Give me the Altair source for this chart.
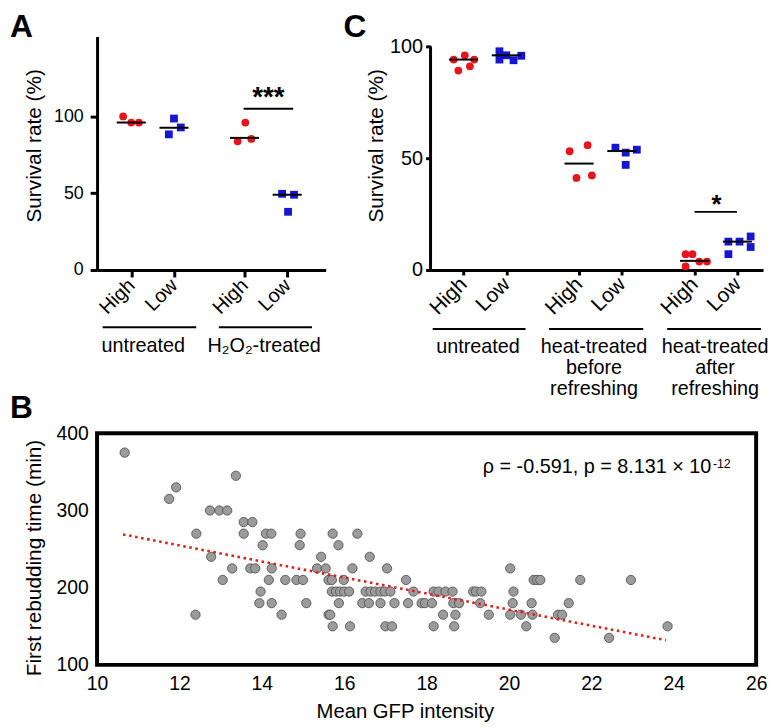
import altair as alt
import pandas as pd

FONT = "Liberation Sans"
RED = "#e8141c"
BLUE = "#1515d2"
GREY_FILL = "#9b9b9b"
GREY_EDGE = "#555555"
FIT_RED = "#d8231f"

# ---------------- Panel A data ----------------
A_TICK_POS = [1.0, 2.0, 3.65, 4.65]
A_TICK_LABELS = ["High", "Low", "High", "Low"]
A_GROUP = [0, 0, 0, 1, 1, 1, 2, 2, 2, 3, 3, 3]
A_JITTER = [-0.19, 0.0, 0.18, -0.12, 0.0, 0.16, -0.16, 0.02, 0.16, -0.12, 0.16, 0.02]
A_SURVIVAL = [100, 96, 96, 88.3, 98.6, 92.8, 83.8, 96, 85.3, 49.6, 49, 37.9]
A_MEDIAN = [96, 92.6, 86, 49]
A_CONDITIONS = ["untreated", "H\u2082O\u2082-treated"]
A_COND_START = [0.33, 3.05]
A_COND_END = [2.52, 5.23]
A_COND_TEXT_X = [1.28, 4.11]
A_SIG = {"x": 3.63, "x2": 4.79, "y": 105, "tx": 4.21, "ty": 106.5, "t": "***"}
A_X_DOMAIN = [0.2, 5.55]
A_Y_DOMAIN = [0, 152]

# ---------------- Panel C data ----------------
C_TICK_POS = [1.0, 2.0, 3.7, 4.7, 6.4, 7.4]
C_TICK_LABELS = ["High", "Low", "High", "Low", "High", "Low"]
C_GROUP = [0] * 5 + [1] * 5 + [2] * 4 + [3] * 4 + [4] * 5 + [5] * 5
C_JITTER = [-0.23, 0.03, 0.25, -0.12, 0.15,
            -0.16, -0.16, 0.0, 0.17, 0.35,
            -0.22, 0.2, -0.06, 0.3,
            -0.15, 0.09, 0.35, 0.09,
            -0.21, -0.05, 0.11, 0.29, -0.21,
            -0.21, 0.05, 0.31, 0.31, -0.21]
C_SURVIVAL = [94.1, 96.0, 94.1, 89.2, 91.1,
              97.8, 94.1, 96.0, 93.8, 95.8,
              53.1, 55.8, 41.2, 42.3,
              54.7, 52.5, 53.8, 47.0,
              7.1, 7.1, 3.8, 3.8, 1.6,
              12.7, 12.7, 15.0, 10.3, 7.1]
C_MEDIAN = [94.1, 96.0, 47.6, 53.2, 4.1, 12.7]
C_CONDITIONS = ["untreated", "heat-treated\nbefore\nrefreshing", "heat-treated\nafter\nrefreshing"]
C_COND_START = [0.28, 3.0, 5.76]
C_COND_END = [2.45, 5.2, 7.95]
C_COND_TEXT_X = [1.34, 4.05, 6.88]
C_SIG = {"x": 6.4, "x2": 7.39, "y": 26, "tx": 6.91, "ty": 25.3, "t": "*"}
C_X_DOMAIN = [0.23, 8.0]
C_Y_DOMAIN = [0, 104.42]
C_AXIS_TOP = 100

# ---------------- Panel B data ----------------
B_TIME_ROWS = [375, 345, 330, 315, 300, 285, 270, 255, 240, 225, 210, 195, 180, 165, 150, 135]
B_GFP_ROWS = [
    [10.67],
    [13.37],
    [11.92],
    [11.75],
    [12.74, 12.97, 13.16],
    [13.56, 13.77],
    [12.41, 13.56, 14.1, 14.23, 14.94, 15.72, 16.32],
    [14.02, 14.92, 15.86],
    [12.77, 15.44, 16.62],
    [13.28, 13.72, 13.84, 14.24, 15.34, 15.55, 16.2, 17.04, 20.03],
    [13.05, 14.17, 14.57, 14.84, 15.0, 15.62, 15.7, 15.99, 17.5, 20.6, 20.68, 20.76, 21.73, 22.96],
    [13.97, 15.7, 15.8, 15.9, 16.0, 16.12, 16.52, 16.64, 16.75, 16.88, 16.98, 17.12, 17.68,
     18.17, 18.29, 18.46, 18.63, 19.13, 19.2, 19.33, 20.11],
    [13.94, 14.24, 15.08, 15.87, 16.44, 16.6, 16.88, 17.22, 17.55, 17.88, 17.96, 18.13, 18.65,
     18.79, 19.3, 20.09, 20.55, 21.45],
    [12.39, 14.48, 15.62, 15.66, 18.4, 18.7, 19.51, 20.03, 20.29, 20.57, 21.19, 21.29],
    [15.72, 16.14, 17.0, 17.16, 18.17, 18.67, 20.42, 23.85],
    [21.11, 22.43],
]
FIT_GFP = [10.63, 23.81]
FIT_TIME = [269, 132]
B_X_TICKS = [10, 12, 14, 16, 18, 20, 22, 24, 26]
B_Y_TICKS = [100, 200, 300, 400]
B_X_DOMAIN = [10, 26]
B_Y_DOMAIN = [100, 400]
B_STAT_TEXT = "\u03c1 = -0.591, p = 8.131 \u00d7 10"
B_STAT_EXP = "-12"
B_STAT_POS = {"x": 24.91, "y": 349.1, "ex": 24.95, "ey": 355.1}


def scale(domain):
    return alt.Scale(domain=domain, nice=False, zero=False)


def letter_layer(letter, y):
    return alt.Chart(pd.DataFrame({"t": [letter]})).mark_text(
        fontSize=32, fontWeight="bold", align="left", baseline="alphabetic", color="black"
    ).encode(text="t:N", x=alt.value(-88), y=alt.value(y))


def survival_panel(tick_pos, tick_labels, groups, jitter, values, medians,
                   cond, cond_start, cond_end, cond_tx, sig, xdom, ydom,
                   width, height, cond_line_y, cond_text_y, tick_font, xlab_font,
                   tick_size, xlab_pad, title_x, title_y, letter, manual_axis_top=None):
    pts = pd.DataFrame({
        "x": [tick_pos[g] + j for g, j in zip(groups, jitter)],
        "y": values,
        "level": [tick_labels[g] for g in groups],
    })
    med = pd.DataFrame({
        "x": [p - 0.34 for p in tick_pos],
        "x2": [p + 0.34 for p in tick_pos],
        "y": medians,
    })
    cond_lines = pd.DataFrame({"x": cond_start, "x2": cond_end, "y": [cond_line_y] * len(cond)})
    cond_text = pd.DataFrame({"x": cond_tx, "y": [cond_text_y] * len(cond), "t": cond})
    sig_line = pd.DataFrame({"x": [sig["x"]], "x2": [sig["x2"]], "y": [sig["y"]]})
    sig_text = pd.DataFrame({"x": [sig["tx"]], "y": [sig["ty"]], "t": [sig["t"]]})

    label_expr = f"{tick_labels}[indexof({tick_pos}, datum.value)]"
    x_axis = alt.Axis(values=tick_pos, labelExpr=label_expr, title=None, grid=False,
                      domainWidth=3, domainColor="black", tickWidth=3, tickSize=tick_size,
                      tickColor="black", labelAngle=-45, labelAlign="right",
                      labelBaseline="middle", labelFontSize=xlab_font,
                      labelPadding=xlab_pad, labelOverlap=False, labelFlush=False)
    y_axis = alt.Axis(values=[0, 50, 100], title="Survival rate (%)", grid=False,
                      domain=manual_axis_top is None, domainWidth=3, domainColor="black",
                      tickWidth=3, tickSize=tick_size, tickColor="black",
                      labelFontSize=tick_font, labelPadding=7 if tick_size > 6 else 3,
                      labelOverlap=False, labelFlush=False,
                      titleFontSize=21, titleFontWeight="normal", titleX=title_x,
                      titleY=title_y, titleBaseline="alphabetic")

    base_x = lambda: alt.X("x:Q", scale=scale(xdom), axis=x_axis)
    base_y = lambda: alt.Y("y:Q", scale=scale(ydom), axis=y_axis)

    layers = []
    points = alt.Chart(pts).mark_point(filled=True, opacity=1, size=62).encode(
        x=base_x(), y=base_y(),
        color=alt.Color("level:N", scale=alt.Scale(domain=["High", "Low"], range=[RED, BLUE]), legend=None),
        shape=alt.Shape("level:N", scale=alt.Scale(domain=["High", "Low"], range=["circle", "square"]), legend=None),
    )
    layers.append(points)
    layers.append(alt.Chart(med).mark_rule(color="black", strokeWidth=2).encode(
        x=base_x(), x2="x2:Q", y=base_y()))
    layers.append(alt.Chart(sig_line).mark_rule(color="black", strokeWidth=2).encode(
        x=base_x(), x2="x2:Q", y=base_y()))
    layers.append(alt.Chart(sig_text).mark_text(fontSize=28 if len(sig["t"]) > 1 else 26,
                                                fontWeight="bold", baseline="alphabetic",
                                                align="center", color="black").encode(
        x=base_x(), y=base_y(), text="t:N"))
    layers.append(alt.Chart(cond_lines).mark_rule(color="black", strokeWidth=2).encode(
        x=base_x(), x2="x2:Q", y=base_y()))
    layers.append(alt.Chart(cond_text).mark_text(fontSize=20, baseline="alphabetic", align="center",
                                                 lineBreak="\n", lineHeight=21.6, color="black").encode(
        x=base_x(), y=base_y(), text="t:N"))
    if manual_axis_top is not None:
        ax_line = pd.DataFrame({"x": [xdom[0]], "y": [0], "y2": [manual_axis_top]})
        layers.append(alt.Chart(ax_line).mark_rule(color="black", strokeWidth=3).encode(
            x=base_x(), y=base_y(), y2="y2:Q"))
    layers.append(letter_layer(letter, 1))
    return alt.layer(*layers).properties(width=width, height=height)


panel_a = survival_panel(A_TICK_POS, A_TICK_LABELS, A_GROUP, A_JITTER, A_SURVIVAL, A_MEDIAN,
                         A_CONDITIONS, A_COND_START, A_COND_END, A_COND_TEXT_X, A_SIG,
                         A_X_DOMAIN, A_Y_DOMAIN, 231, 236, -37.2, -53.1, 18, 20, 7, 5,
                         -56.7, 110, "A")
panel_c = survival_panel(C_TICK_POS, C_TICK_LABELS, C_GROUP, C_JITTER, C_SURVIVAL, C_MEDIAN,
                         C_CONDITIONS, C_COND_START, C_COND_END, C_COND_TEXT_X, C_SIG,
                         C_X_DOMAIN, C_Y_DOMAIN, 336, 236, -26.4, -36.9, 20, 21, 5, 6,
                         -49, 110, "C", manual_axis_top=C_AXIS_TOP)

# ---------------- Panel B ----------------
b_time, b_gfp = [], []
for t, row in zip(B_TIME_ROWS, B_GFP_ROWS):
    for g in row:
        b_time.append(t)
        b_gfp.append(g)
b_df = pd.DataFrame({"gfp": b_gfp, "time": b_time})
fit_df = pd.DataFrame({"gfp": FIT_GFP, "time": FIT_TIME})
stat_df = pd.DataFrame({"gfp": [B_STAT_POS["x"]], "time": [B_STAT_POS["y"]], "t": [B_STAT_TEXT]})
exp_df = pd.DataFrame({"gfp": [B_STAT_POS["ex"]], "time": [B_STAT_POS["ey"]], "t": [B_STAT_EXP]})

bx_axis = alt.Axis(values=B_X_TICKS, title="Mean GFP intensity", grid=False, domain=False,
                   ticks=False, tickSize=0, labelFontSize=19.5, labelPadding=10,
                   labelFlush=False, labelOverlap=False, titleFontSize=20.5,
                   titleFontWeight="normal", titleX=311, titleY=53, titleBaseline="alphabetic")
by_axis = alt.Axis(values=B_Y_TICKS, title="First rebudding time (min)", grid=False, domain=False,
                   ticks=False, tickSize=0, labelFontSize=19.5, labelPadding=9,
                   labelFlush=False, labelOverlap=False, titleFontSize=21,
                   titleFontWeight="normal", titleX=-57.5, titleY=125.5, titleBaseline="alphabetic")

bx = lambda: alt.X("gfp:Q", scale=scale(B_X_DOMAIN), axis=bx_axis)
by = lambda: alt.Y("time:Q", scale=scale(B_Y_DOMAIN), axis=by_axis)

b_points = alt.Chart(b_df).mark_circle(size=88, color=GREY_FILL, opacity=1, stroke=GREY_EDGE,
                                       strokeWidth=0.9).encode(x=bx(), y=by())
b_fit = alt.Chart(fit_df).mark_line(color=FIT_RED, strokeWidth=2.6, strokeDash=[2.6, 3.6]).encode(
    x=bx(), y=by())
b_stat = alt.Chart(stat_df).mark_text(fontSize=20, align="right", baseline="alphabetic", color="black").encode(
    x=bx(), y=by(), text="t:N")
b_exp = alt.Chart(exp_df).mark_text(fontSize=12.5, align="left", baseline="alphabetic", color="black").encode(
    x=bx(), y=by(), text="t:N")

panel_b = alt.layer(b_points, b_fit, b_stat, b_exp, letter_layer("B", -15)).properties(
    width=666, height=234, view=alt.ViewBackground(stroke="black", strokeWidth=4))

top = alt.hconcat(panel_a, panel_c, spacing=106, bounds="flush")
chart = alt.vconcat(top, panel_b, spacing=-9).properties(
    padding={"left": 0, "top": 0, "right": 0, "bottom": 0}
).configure(
    font=FONT
).configure_view(stroke=None).configure_axis(
    labelFont=FONT, titleFont=FONT, labelColor="black", titleColor="black"
).configure_text(font=FONT)

chart.save("out.html", embed_options={"renderer": "svg", "actions": False})
